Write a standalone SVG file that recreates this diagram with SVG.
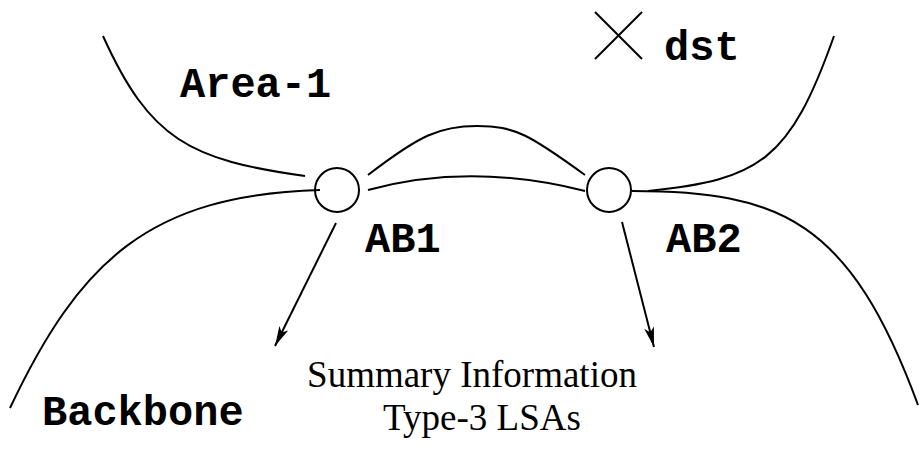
<svg xmlns="http://www.w3.org/2000/svg" width="920" height="450" viewBox="0 0 920 450">
<style>
.ln{fill:none;stroke:#000;stroke-width:2}
.mono{font-family:"Liberation Mono","Courier New",monospace;font-weight:bold;font-size:42px;fill:#000}
.serif{font-family:"Liberation Serif","Times New Roman",serif;font-size:37px;fill:#000}
</style>
<defs>
<marker id="ah" viewBox="0 0 20 10" refX="20" refY="5" markerWidth="20" markerHeight="10" markerUnits="userSpaceOnUse" orient="auto">
<path d="M0,0 L20,5 L0,10 L5,5 Z" fill="#000"/>
</marker>
</defs>
<g id="connectors">
<path class="ln" d="M103,36 C150,140 190,160 305,176"/>
<path class="ln" d="M10,408 C80,260 150,195 320,190"/>
<path class="ln" d="M368,175 C420,135 440,126 477,126 C515,126 530,135 585,175"/>
<path class="ln" d="M368,190 Q470,162 585,191"/>
<path class="ln" d="M648,191 C760,180 790,160 834,36"/>
<path class="ln" d="M632,191 C780,191 850,220 918,405"/>
<line class="ln" x1="336" y1="223" x2="275" y2="346" marker-end="url(#ah)"/>
<line class="ln" x1="622" y1="222" x2="654" y2="347" marker-end="url(#ah)"/>
</g>
<g id="AB1">
<circle class="ln" cx="337" cy="190" r="22"/>
<text class="mono" x="365" y="252">AB1</text>
</g>
<g id="AB2">
<circle class="ln" cx="609" cy="190" r="22"/>
<text class="mono" x="666" y="252">AB2</text>
</g>
<g id="dst">
<line class="ln" x1="595" y1="12" x2="642" y2="59"/>
<line class="ln" x1="642" y1="12" x2="595" y2="59"/>
<text class="mono" x="664" y="60">dst</text>
</g>
<g id="labels">
<text class="mono" x="180" y="97">Area-1</text>
<text class="mono" x="42" y="425">Backbone</text>
<text class="serif" x="472" y="387" text-anchor="middle">Summary Information</text>
<text class="serif" x="482" y="430" text-anchor="middle">Type-3 LSAs</text>
</g>
</svg>
